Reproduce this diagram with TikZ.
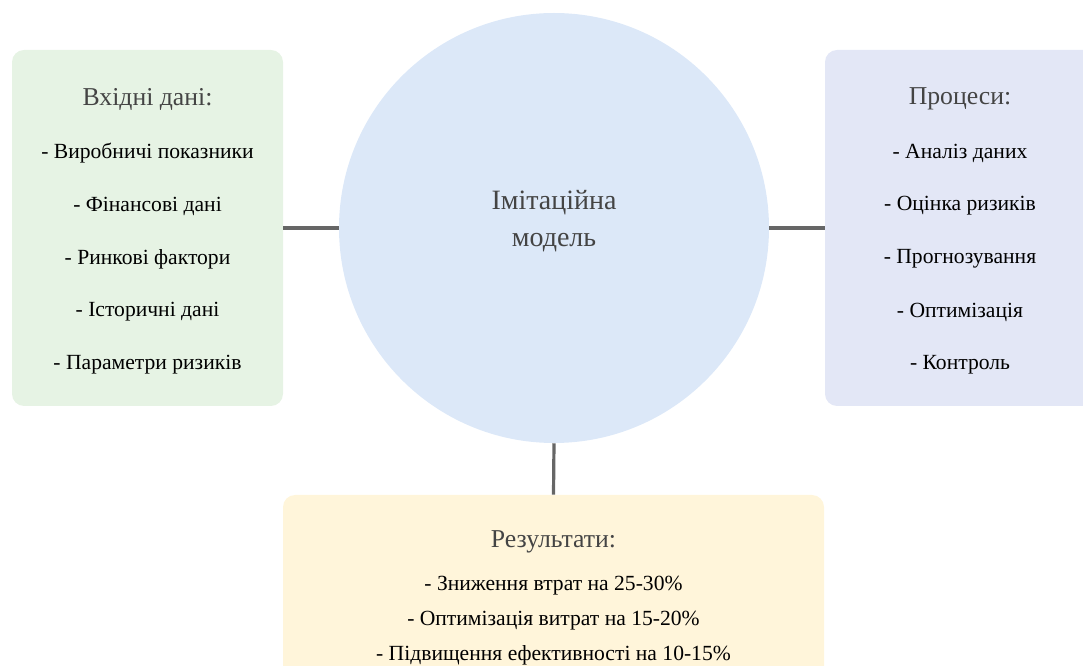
\documentclass[tikz,border=0pt]{standalone}
\usepackage{fontspec}
\setmainfont{Liberation Serif}
\definecolor{ingreen}{HTML}{E6F3E4}
\definecolor{procblue}{HTML}{E3E7F6}
\definecolor{modelblue}{HTML}{DCE8F8}
\definecolor{resyellow}{HTML}{FFF5DA}
\definecolor{linkgray}{HTML}{666666}
\definecolor{headgray}{HTML}{444444}
\tikzset{
  panel/.style={rounded corners=9pt, inner sep=0pt},
  link/.style={draw=linkgray, line width=2.4pt},
  head/.style={font=\fontsize{19.3}{22}\selectfont, text=headgray},
  item/.style={font=\fontsize{16.2}{18}\selectfont, text=black},
}
\begin{document}
\begin{tikzpicture}[x=0.75pt,y=-0.75pt]
    \useasboundingbox (0,0) rectangle (1083,666);
    % panels
    \node[panel, fill=ingreen, minimum width=203.25pt, minimum height=267pt] (inbox) at (147.5,228) {};
    \node[panel, fill=procblue, minimum width=202.5pt, minimum height=267pt] (procbox) at (960,228) {};
    \node[panel, fill=resyellow, minimum width=405.75pt, minimum height=150pt] (resbox) at (553.5,595) {};
    \node[circle, fill=modelblue, minimum size=322.5pt, inner sep=0pt] (model) at (554,228) {};

    % links
    \draw[link] (inbox.east) -- (model.west);
    \draw[link] (model.east) -- (procbox.west);
    \draw[link] (model.south) -- (resbox.north);

    % model
    \node[head, align=center, font=\fontsize{21}{27.75}\selectfont] (modeltext) at (554,221) {Імітаційна\\модель};

    % inputs
    \node[head] (inhead) at (147.5,99) {Вхідні дані:};
    \node[item] (in1) at (147.5,153) {- Виробничі показники};
    \node[item] (in2) at (147.5,206) {- Фінансові дані};
    \node[item] (in3) at (147.5,259) {- Ринкові фактори};
    \node[item] (in4) at (147.5,312) {- Історичні дані};
    \node[item] (in5) at (147.5,365) {- Параметри ризиків};

    % processes
    \node[head] (prochead) at (960,99) {Процеси:};
    \node[item] (proc1) at (960,153) {- Аналіз даних};
    \node[item] (proc2) at (960,206) {- Оцінка ризиків};
    \node[item] (proc3) at (960,259) {- Прогнозування};
    \node[item] (proc4) at (960,312) {- Оптимізація};
    \node[item] (proc5) at (960,365) {- Контроль};

    % results
    \node[head] (reshead) at (553.5,542) {Результати:};
    \node[item] (res1) at (553.5,586) {- Зниження втрат на 25-30\%};
    \node[item] (res2) at (553.5,621) {- Оптимізація витрат на 15-20\%};
    \node[item] (res3) at (553.5,655) {- Підвищення ефективності на 10-15\%};
\end{tikzpicture}
\end{document}
